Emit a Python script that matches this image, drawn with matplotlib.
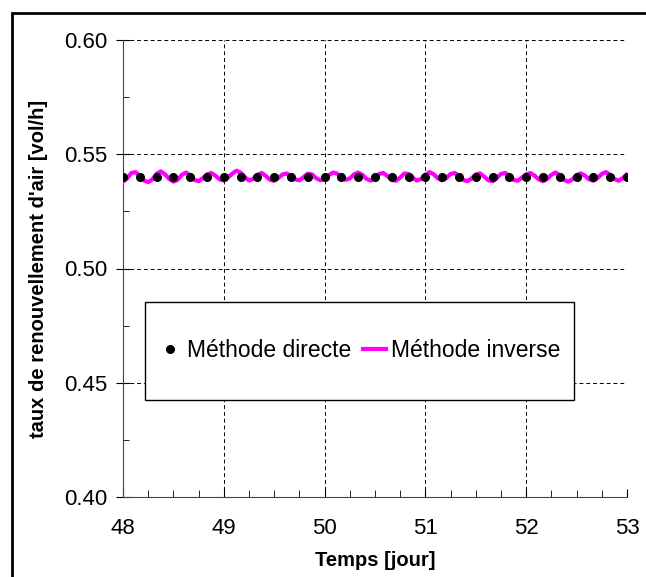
import numpy as np
import matplotlib.pyplot as plt
from matplotlib.patches import Rectangle
from matplotlib.ticker import MultipleLocator, FormatStrFormatter

plt.rcParams["font.family"] = ["Liberation Sans", "DejaVu Sans"]

# méthode directe : une valeur toutes les 4 heures
direct_t = [48 + k / 6 for k in range(31)]
direct_vals = [0.540] * 31

# méthode inverse : écart à 0.540 (x 1e-4), pas horaire
inverse_dev = [
    -20, -5, 18, 22, 5, -15, -22, -10, 15, 25, 12, -8, -20, -12, 10, 20, 8, -12, -18, -5, 12, 18, 6, -10,
    -15, -2, 15, 28, 20, 0, -15, -8, 10, 18, 5, -12, -16, -4, 12, 16, 4, -10, -14, 0, 15, 12, -5, -14,
    -10, 8, 20, 15, -2, -12, -6, 12, 20, 10, -8, -15, -5, 14, 18, 4, -12, -16, -2, 16, 14, -4, -15, -8,
    10, 22, 12, -6, -14, -4, 14, 18, 5, -12, -18, -6, 12, 16, 2, -14, -18, -4, 14, 18, 6, -12, -16, -2,
    12, 18, 6, -10, -18, -8, 10, 20, 8, -12, -20, -10, 8, 16, 6, -10, -16, -4, 14, 22, 10, -8, -16, -4,
    12,
]
inverse_t = [48 + k / 24 for k in range(len(inverse_dev))]
inverse_vals = [0.540 + d * 1e-4 for d in inverse_dev]

fig = plt.figure(figsize=(6.46, 5.77), dpi=100)
ax = fig.add_axes([123 / 646, 1 - 497 / 577, 504 / 646, 457 / 577])

# cadre extérieur
fig.patches.append(Rectangle((12 / 646, -0.1), 1.2, 1.1 - 13 / 577, transform=fig.transFigure,
                             fill=False, lw=2, ec="black", clip_on=False))

ax.plot(inverse_t, inverse_vals, color="#ff00ff", lw=3.0, label="Méthode inverse", zorder=3)
ax.plot(direct_t, direct_vals, "o", color="black", ms=5.5, label="Méthode directe", zorder=4)

ax.set_xlim(48, 53)
ax.set_ylim(0.40, 0.60)
ax.xaxis.set_major_locator(MultipleLocator(1))
ax.xaxis.set_minor_locator(MultipleLocator(0.25))
ax.yaxis.set_major_locator(MultipleLocator(0.05))
ax.yaxis.set_minor_locator(MultipleLocator(0.025))
ax.yaxis.set_major_formatter(FormatStrFormatter("%.2f"))

ax.grid(True, which="major", color="black", linestyle=(0, (4, 3)), lw=0.7)
ax.spines["top"].set_visible(False)
ax.spines["right"].set_visible(False)
ax.spines["left"].set_color("#444444")
ax.spines["bottom"].set_color("#444444")

ax.tick_params(axis="y", which="major", direction="inout", length=10, labelsize=16, pad=6)
ax.tick_params(axis="y", which="minor", direction="in", length=4)
ax.tick_params(axis="x", which="major", direction="in", length=6, labelsize=16, pad=15)
ax.tick_params(axis="x", which="minor", direction="in", length=5)

ax.set_xlabel("Temps [jour]", fontsize=14.5, fontweight="bold", labelpad=9)
ax.set_ylabel("taux de renouvellement d'air [vol/h]", fontsize=14.5, fontweight="bold", labelpad=12)

# cadre de la légende
ax.add_patch(Rectangle((0.0437, 0.212), 0.851, 0.215, transform=ax.transAxes,
                       fill=True, fc="white", ec="black", lw=1.0, zorder=5))

handles, labels = ax.get_legend_handles_labels()
leg = ax.legend(handles[::-1], labels[::-1], ncol=2, loc="center",
                bbox_to_anchor=(0.0437 + 0.851 / 2, 0.32),
                fontsize=16.5, frameon=False, borderpad=0.2,
                handlelength=1.0, handletextpad=0.25, columnspacing=0.5, borderaxespad=0)
leg.set_zorder(6)

fig.savefig("out.png", dpi=100)
